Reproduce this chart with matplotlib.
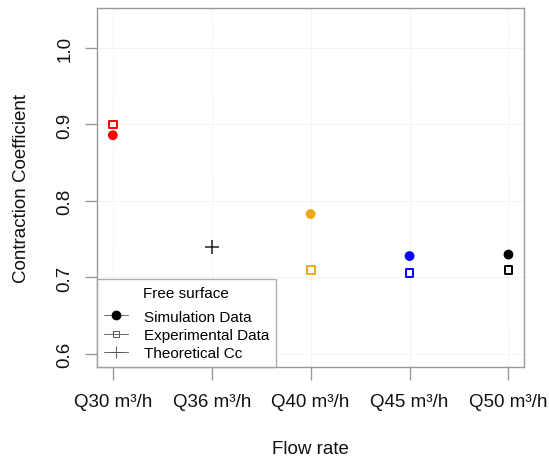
import numpy as np
import matplotlib.pyplot as plt
from matplotlib.lines import Line2D

plt.rcParams['font.family'] = ['Liberation Sans', 'DejaVu Sans']

# data
labels = ['Q30 m³/h', 'Q36 m³/h', 'Q40 m³/h', 'Q45 m³/h', 'Q50 m³/h']
sim_x = [1, 3, 4, 5]
sim_cc = [0.886, 0.783, 0.728, 0.730]
exp_x = [1, 3, 4, 5]
exp_cc = [0.900, 0.710, 0.706, 0.710]
theo_x = [2]
theo_cc = [0.740]
colors = ['#ff0000', '#f0a818', '#0000ff', '#000000']

gray = '#9a9a9a'

fig = plt.figure(figsize=(5.49, 4.60), dpi=100)
ax = fig.add_axes([0.1767, 0.2, 0.7783, 0.78])

# faint grid
for xv in range(1, 6):
    ax.axvline(xv, color='#e4e4e4', lw=0.7, ls=':', zorder=0)
for yv in np.arange(0.6, 1.01, 0.1):
    ax.axhline(yv, color='#e4e4e4', lw=0.7, ls=':', zorder=0)

ax.scatter(sim_x, sim_cc, s=50, c=colors, marker='o', zorder=3, linewidths=0)
ax.scatter(exp_x, exp_cc, s=32, facecolors='none', edgecolors=colors,
           marker='s', linewidths=1.4, zorder=3)
ax.scatter(theo_x, theo_cc, s=110, c='#222222', marker='+', linewidths=1.1, zorder=3)

ax.set_xlim(0.84, 5.16)
ax.set_ylim(0.583, 1.052)
ax.set_xticks(range(1, 6))
ax.set_xticklabels(labels)
ax.set_yticks([0.6, 0.7, 0.8, 0.9, 1.0])
ax.set_yticklabels(['0.6', '0.7', '0.8', '0.9', '1.0'], rotation=90, va='center')

for sp in ax.spines.values():
    sp.set_color(gray)
    sp.set_linewidth(1.0)
ax.tick_params(axis='both', colors=gray, labelcolor='#111111', length=9,
               width=1.0, labelsize=13.5)
ax.tick_params(axis='x', pad=10)
ax.tick_params(axis='y', pad=8)

ax.set_xlabel('Flow rate', fontsize=13.5, labelpad=21, color='#111111')
ax.set_ylabel('Contraction Coefficient', fontsize=13.5, labelpad=19, color='#111111')

handles = [
    Line2D([], [], color='#555555', lw=0.6, marker='o', markersize=6,
           markerfacecolor='black', markeredgecolor='black'),
    Line2D([], [], color='#555555', lw=0.6, marker='s', markersize=5,
           markerfacecolor='none', markeredgecolor='#555555', markeredgewidth=0.7),
    Line2D([], [], color='#555555', lw=0.6, marker='+', markersize=8,
           markeredgecolor='#555555', markeredgewidth=0.7),
]
leg = ax.legend(handles, ['Simulation Data', 'Experimental Data', 'Theoretical Cc'],
                title='Free surface', loc='lower left', borderaxespad=0,
                fontsize=11, title_fontsize=11, frameon=True, fancybox=False,
                handlelength=1.6, handletextpad=1.0, labelspacing=0.28,
                borderpad=0.45)
leg.get_frame().set_edgecolor(gray)
leg.get_frame().set_linewidth(1.0)
# a bit more room between the title and the entries
leg._legend_box.sep = 7

fig.savefig('out.png', dpi=100)
